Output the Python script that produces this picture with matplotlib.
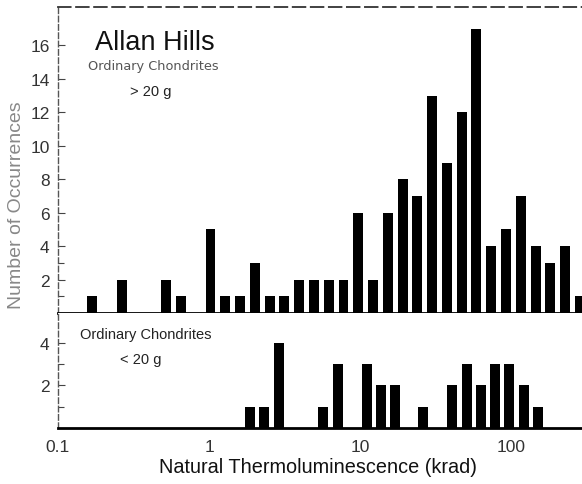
import matplotlib
matplotlib.use("Agg")
import matplotlib.pyplot as plt
from matplotlib.ticker import FixedLocator, NullFormatter

plt.rcParams['font.family'] = ['Liberation Sans', 'DejaVu Sans']

# ---- data (bin centres in krad, counts) ----
large_centers = [0.169, 0.211, 0.265, 0.332, 0.415, 0.520, 0.651, 0.816,
                 1.022, 1.280, 1.603, 2.008, 2.515, 3.150, 3.946, 4.943,
                 6.192, 7.756, 9.714, 12.17, 15.24, 19.09, 23.91, 29.95,
                 37.52, 46.99, 58.87, 73.74, 92.35, 115.7, 144.9, 181.5,
                 227.3, 284.7]
large_counts = [1, 0, 2, 0, 0, 2, 1, 0,
                5, 1, 1, 3, 1, 1, 2, 2,
                2, 2, 6, 2, 6, 8, 7, 13,
                9, 12, 17, 4, 5, 7, 4, 3,
                4, 1]

small_centers = [1.861, 2.322, 2.908, 5.684, 7.142, 11.11, 13.75, 17.02,
                 26.06, 40.53, 50.93, 63.04, 78.03, 96.56, 121.3, 150.2]
small_counts = [1, 1, 4, 1, 3, 3, 2, 2,
                1, 2, 3, 2, 3, 3, 2, 1]

x_ticks = [0.1, 1, 10, 100]
x_ticklabels = ["0.1", "1", "10", "100"]
top_yticks = [2, 4, 6, 8, 10, 12, 14, 16]
bottom_yticks = [2, 4]

HALF = 0.033  # half bar width in log10 units


def draw_bars(ax, centers, counts):
    lefts = [c * 10 ** (-HALF) for c in centers]
    widths = [c * (10 ** HALF - 10 ** (-HALF)) for c in centers]
    ax.bar(lefts, counts, width=widths, align='edge', color='black',
           edgecolor='black', linewidth=0)


W, H = 582, 485
fig = plt.figure(figsize=(W / 100, H / 100), dpi=100)

ax_left = 58 / W
ax_w = 1.0 - ax_left
top_b = (H - 314) / H
top_h = (314 - 8) / H
bot_b = (H - 429) / H
bot_h = (429 - 314) / H

ax1 = fig.add_axes([ax_left, top_b, ax_w, top_h])
ax2 = fig.add_axes([ax_left, bot_b, ax_w, bot_h], sharex=ax1)

for ax in (ax1, ax2):
    ax.set_xscale('log')
    ax.set_xlim(0.1, 294)

draw_bars(ax1, large_centers, large_counts)
draw_bars(ax2, small_centers, small_counts)

ax1.set_ylim(0, 18.3)
ax2.set_ylim(0, 5.4)

# spines
for ax in (ax1, ax2):
    ax.spines['right'].set_visible(False)
    ax.spines['left'].set_linestyle((0, (4, 2)))
    ax.spines['left'].set_color('#555555')
    ax.spines['left'].set_linewidth(1.0)
    ax.spines['bottom'].set_color('black')
    ax.spines['bottom'].set_linewidth(2.0)
ax1.spines['top'].set_linestyle((0, (7, 3)))
ax1.spines['top'].set_color('#333333')
ax1.spines['top'].set_linewidth(1.3)
ax2.spines['top'].set_visible(False)

# y ticks
ax1.yaxis.set_major_locator(FixedLocator(top_yticks))
ax1.yaxis.set_minor_locator(FixedLocator([1, 3]))
ax2.yaxis.set_major_locator(FixedLocator(bottom_yticks))
ax2.yaxis.set_minor_locator(FixedLocator([1, 3]))
for ax in (ax1, ax2):
    ax.tick_params(axis='y', which='major', direction='in', length=5,
                   width=0.8, color='#444444', labelsize=12.5, pad=6,
                   labelcolor='#333333')
    ax.tick_params(axis='y', which='minor', direction='in', length=4,
                   width=0.8, color='#444444')

# x ticks
ax1.xaxis.set_major_locator(FixedLocator(x_ticks))
ax1.xaxis.set_minor_locator(FixedLocator([]))
ax1.tick_params(axis='x', which='major', direction='out', length=3,
                width=0.8, labelbottom=False)
ax2.tick_params(axis='x', which='major', direction='out', length=0,
                labelsize=12.5, pad=8, labelcolor='#333333')
ax2.set_xticks(x_ticks)
ax2.set_xticklabels(x_ticklabels)
ax2.xaxis.set_minor_formatter(NullFormatter())

# texts
ax1.text((95 - 58) / (W - 58), (314 - 43) / 306, "Allan Hills",
         transform=ax1.transAxes, fontsize=19.5, ha='left', va='center',
         color='#111111')
ax1.text((88 - 58) / (W - 58), (314 - 67) / 306, "Ordinary Chondrites",
         transform=ax1.transAxes, fontsize=9.3, ha='left', va='center',
         color='#555555', family=['DejaVu Sans'])
ax1.text((130 - 58) / (W - 58), (314 - 92) / 306, "> 20 g",
         transform=ax1.transAxes, fontsize=10.5, ha='left', va='center',
         color='#222222')

ax2.text((80 - 58) / (W - 58), (429 - 335) / 115, "Ordinary Chondrites",
         transform=ax2.transAxes, fontsize=10.5, ha='left', va='center',
         color='#222222')
ax2.text((120 - 58) / (W - 58), (429 - 360) / 115, "< 20 g",
         transform=ax2.transAxes, fontsize=10.5, ha='left', va='center',
         color='#222222')

fig.text(318 / W, 1 - 468 / H, "Natural Thermoluminescence (krad)",
         fontsize=14.3, ha='center', va='center', color='#111111')
fig.text(17 / W, 1 - 205 / H, "Number of Occurrences", rotation=90,
         fontsize=14, ha='center', va='center', color='#888888')

fig.savefig("out.png", dpi=100)
